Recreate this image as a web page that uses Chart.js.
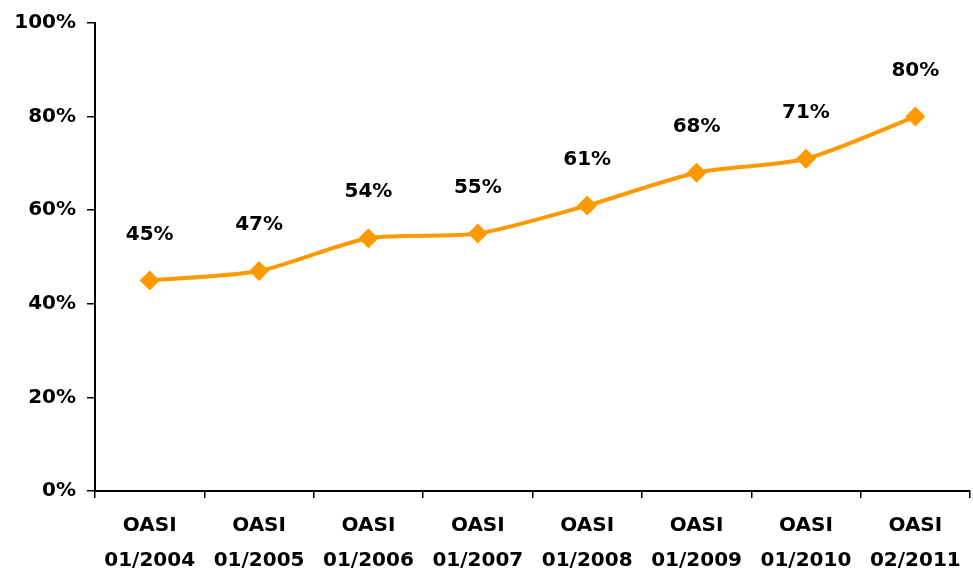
<!DOCTYPE html>
<html>
<head>
<meta charset="utf-8">
<script src="https://cdn.jsdelivr.net/npm/chart.js@4/dist/chart.umd.min.js"></script>
<style>
  html, body { margin: 0; padding: 0; background: #fff; }
  #wrap { width: 973px; height: 579px; position: relative; }
</style>
</head>
<body>
<div id="wrap"><canvas id="oasiChart"></canvas></div>
<script>
const categories = [
    ['OASI', '01/2004'], ['OASI', '01/2005'], ['OASI', '01/2006'], ['OASI', '01/2007'],
    ['OASI', '01/2008'], ['OASI', '01/2009'], ['OASI', '01/2010'], ['OASI', '02/2011']
];
const shares = [45, 47, 54, 55, 61, 68, 71, 80];
const yTicks = [0, 20, 40, 60, 80, 100];

const FONT = '"DejaVu Sans", sans-serif';

// draws the % labels above each point
const pointLabels = {
    id: 'pointLabels',
    afterDatasetsDraw(chart) {
        const ctx = chart.ctx;
        const meta = chart.getDatasetMeta(0);
        ctx.save();
        ctx.font = 'bold 20px ' + FONT;
        ctx.fillStyle = '#000';
        ctx.textAlign = 'center';
        ctx.textBaseline = 'middle';
        meta.data.forEach((pt, i) => {
            ctx.fillText(shares[i] + '%', pt.x, pt.y - 46);
        });
        ctx.restore();
    }
};

const ctx = document.getElementById('oasiChart').getContext('2d');
const oasiChart = new Chart(ctx, {
    type: 'line',
    data: {
        labels: categories,
        datasets: [{
            data: shares,
            borderColor: '#FF9900',
            backgroundColor: '#FF9900',
            borderWidth: 4,
            tension: 0.25,
            pointStyle: 'rectRot',
            pointRadius: 10,
            pointBorderWidth: 0,
            fill: false,
            clip: false
        }]
    },
    options: {
        responsive: true,
        maintainAspectRatio: false,
        animation: false,
        layout: { autoPadding: false, padding: { top: 23, right: 3, left: 0, bottom: 0 } },
        plugins: {
            legend: { display: false },
            tooltip: { enabled: false }
        },
        scales: {
            x: {
                offset: true,
                grid: {
                    offset: true,
                    drawOnChartArea: false,
                    drawTicks: true,
                    tickLength: 7,
                    color: '#000',
                    lineWidth: 1.5
                },
                border: { color: '#000', width: 2 },
                ticks: {
                    color: '#000',
                    padding: 10,
                    maxRotation: 0,
                    autoSkip: false,
                    font: { family: FONT, weight: 'bold', size: 20, lineHeight: 1.75 }
                },
                afterFit(scale) {
                    scale.height = 88;
                    scale.paddingLeft = 0;
                    scale.paddingRight = 0;
                }
            },
            y: {
                min: 0,
                max: 100,
                afterBuildTicks(scale) { scale.ticks = yTicks.map(v => ({ value: v })); },
                grid: {
                    drawOnChartArea: false,
                    drawTicks: true,
                    tickLength: 8,
                    color: '#000',
                    lineWidth: 1.5
                },
                border: { color: '#000', width: 2 },
                ticks: {
                    color: '#000',
                    padding: 11,
                    callback: v => v + '%',
                    font: { family: FONT, weight: 'bold', size: 20 }
                },
                afterFit(scale) { scale.width = 95; }
            }
        }
    },
    plugins: [pointLabels]
});
</script>
</body>
</html>
